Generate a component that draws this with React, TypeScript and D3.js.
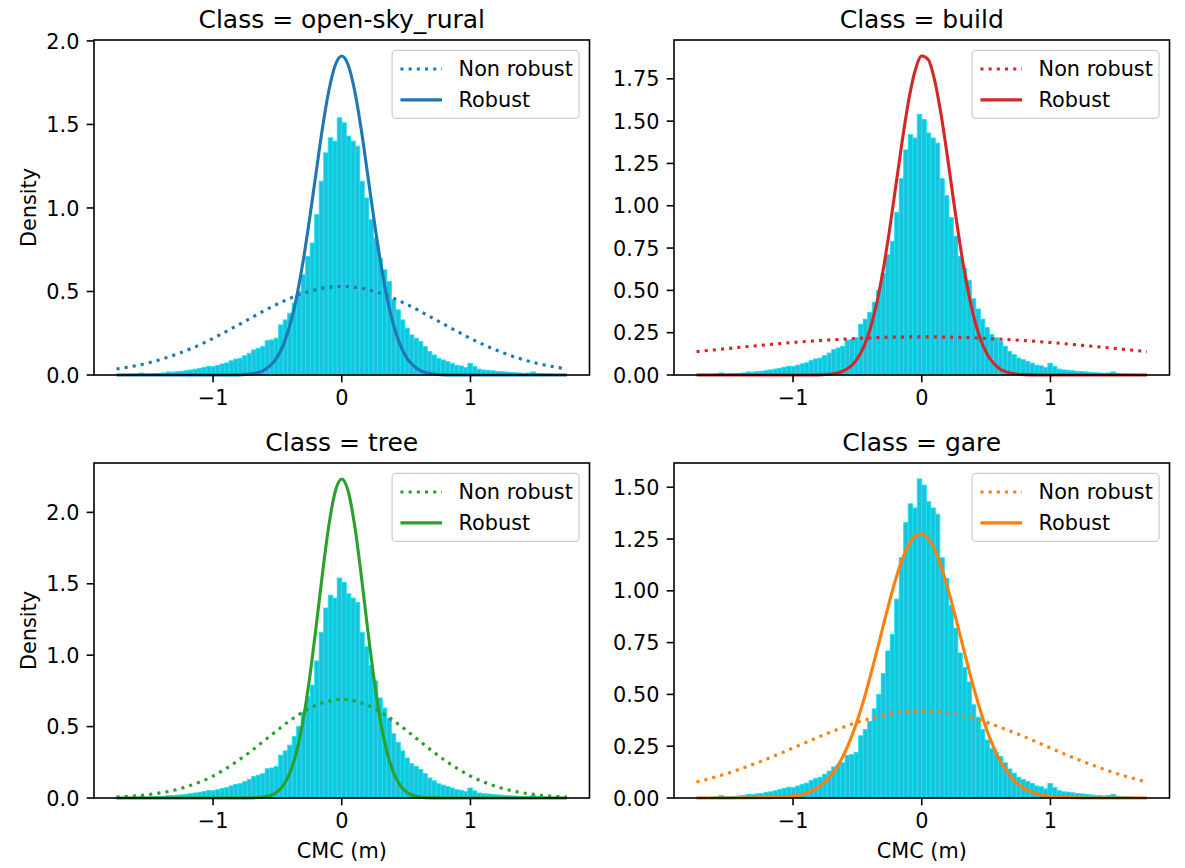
import React from 'react';
import * as d3 from 'd3';

// ---- data ----
const classes = ['open-sky_rural', 'build', 'tree', 'gare'];
const classColors = ['#1f77b4', '#d62728', '#2ca02c', '#ff7f0e'];

// density histogram of CMC (m), 100 bins between -1.75 and 1.75
const binLow = -1.75;
const binHigh = 1.75;
const histDensity = [
  0.003, 0.004, 0.003, 0.005, 0.006, 0.012, 0.006, 0.007, 0.008, 0.010,
  0.012, 0.018, 0.017, 0.020, 0.022, 0.026, 0.030, 0.035, 0.040, 0.046,
  0.052, 0.050, 0.058, 0.066, 0.072, 0.085, 0.095, 0.100, 0.115, 0.130,
  0.150, 0.160, 0.170, 0.205, 0.210, 0.220, 0.300, 0.330, 0.370, 0.430,
  0.500, 0.600, 0.710, 0.790, 0.960, 1.160, 1.330, 1.420, 1.400, 1.540,
  1.510, 1.430, 1.400, 1.370, 1.160, 1.060, 0.930, 0.820, 0.700, 0.630,
  0.560, 0.450, 0.390, 0.330, 0.280, 0.240, 0.220, 0.200, 0.170, 0.140,
  0.120, 0.100, 0.090, 0.080, 0.070, 0.058, 0.054, 0.044, 0.070, 0.050,
  0.035, 0.030, 0.028, 0.025, 0.022, 0.020, 0.018, 0.015, 0.013, 0.012,
  0.010, 0.012, 0.018, 0.009, 0.007, 0.006, 0.005, 0.004, 0.003, 0.003,
];

// x positions where the fitted curves were read
const curveX = [
  -1.75, -1.5, -1.25, -1, -0.9, -0.8, -0.7, -0.6, -0.5, -0.45, -0.4, -0.35, -0.3,
  -0.25, -0.2, -0.15, -0.1, -0.05, 0, 0.05, 0.1, 0.15, 0.2, 0.25, 0.3, 0.35, 0.4,
  0.45, 0.5, 0.6, 0.7, 0.8, 0.9, 1, 1.25, 1.5, 1.75,
];

const nonRobustOpenSky = [
  0.036, 0.073, 0.134, 0.219, 0.260, 0.301, 0.344, 0.386, 0.425, 0.443, 0.460, 0.476, 0.490,
  0.501, 0.511, 0.520, 0.525, 0.529, 0.530, 0.529, 0.525, 0.520, 0.511, 0.501, 0.490, 0.476,
  0.460, 0.443, 0.425, 0.386, 0.344, 0.301, 0.260, 0.219, 0.134, 0.073, 0.036,
];
const robustOpenSky = [
  0, 0, 0, 0, 0, 0.001, 0.007, 0.031, 0.109, 0.188, 0.306, 0.470, 0.682,
  0.934, 1.208, 1.477, 1.703, 1.856, 1.910, 1.856, 1.703, 1.477, 1.208, 0.934, 0.682, 0.470,
  0.306, 0.188, 0.109, 0.031, 0.007, 0.001, 0, 0, 0, 0, 0,
];
const nonRobustBuild = [
  0.138, 0.157, 0.175, 0.192, 0.198, 0.203, 0.208, 0.212, 0.216, 0.218, 0.219, 0.221, 0.222,
  0.223, 0.224, 0.224, 0.225, 0.225, 0.225, 0.225, 0.225, 0.224, 0.224, 0.223, 0.222, 0.221,
  0.219, 0.218, 0.216, 0.212, 0.208, 0.203, 0.198, 0.192, 0.175, 0.157, 0.138,
];
const robustBuild = [
  0, 0, 0, 0, 0, 0.001, 0.006, 0.027, 0.096, 0.167, 0.273, 0.423, 0.620,
  0.859, 1.125, 1.392, 1.629, 1.802, 1.885, 1.864, 1.742, 1.540, 1.287, 1.016, 0.759, 0.536,
  0.357, 0.225, 0.135, 0.040, 0.010, 0.002, 0, 0, 0, 0, 0,
];
const nonRobustTree = [
  0.007, 0.024, 0.067, 0.154, 0.205, 0.265, 0.331, 0.403, 0.475, 0.510, 0.543, 0.574, 0.603,
  0.628, 0.650, 0.667, 0.680, 0.687, 0.690, 0.687, 0.680, 0.667, 0.650, 0.628, 0.603, 0.574,
  0.543, 0.510, 0.475, 0.403, 0.331, 0.265, 0.205, 0.154, 0.067, 0.024, 0.007,
];
const robustTree = [
  0, 0, 0, 0, 0, 0, 0.001, 0.008, 0.044, 0.093, 0.182, 0.328, 0.545,
  0.839, 1.193, 1.570, 1.910, 2.148, 2.234, 2.148, 1.910, 1.570, 1.193, 0.839, 0.545, 0.328,
  0.182, 0.093, 0.044, 0.008, 0.001, 0, 0, 0, 0, 0, 0,
];
const nonRobustGare = [
  0.077, 0.121, 0.177, 0.241, 0.268, 0.295, 0.320, 0.344, 0.366, 0.375, 0.384, 0.392, 0.400,
  0.406, 0.411, 0.415, 0.418, 0.419, 0.420, 0.419, 0.418, 0.415, 0.411, 0.406, 0.400, 0.392,
  0.384, 0.375, 0.366, 0.344, 0.320, 0.295, 0.268, 0.241, 0.177, 0.121, 0.077,
];
const robustGare = [
  0, 0, 0.001, 0.009, 0.022, 0.053, 0.112, 0.216, 0.375, 0.475, 0.587, 0.707, 0.830,
  0.950, 1.061, 1.154, 1.223, 1.265, 1.274, 1.252, 1.199, 1.119, 1.018, 0.903, 0.781, 0.658,
  0.541, 0.433, 0.338, 0.191, 0.097, 0.045, 0.019, 0.007, 0, 0, 0,
];

const xTicks = [-1, 0, 1];
const yTicksOpenSky = [0, 0.5, 1.0, 1.5, 2.0];
const yTicksBuild = [0, 0.25, 0.5, 0.75, 1.0, 1.25, 1.5, 1.75];
const yTicksTree = [0, 0.5, 1.0, 1.5, 2.0];
const yTicksGare = [0, 0.25, 0.5, 0.75, 1.0, 1.25, 1.5];
const legendLabels = ['Non robust', 'Robust'];

// ---- layout ----
const W = 1185;
const H = 868;
const colLeft = [94, 674];
const rowTop = [40, 463];
const axW = 495.5;
const axH = 335;
const fs = 20.8;
const font = 'DejaVu Sans, Liberation Sans, sans-serif';

const panels = [
  { name: classes[0], color: classColors[0], nonRobust: nonRobustOpenSky, robust: robustOpenSky, yTicks: yTicksOpenSky, fmt: '.1f', col: 0, row: 0 },
  { name: classes[1], color: classColors[1], nonRobust: nonRobustBuild, robust: robustBuild, yTicks: yTicksBuild, fmt: '.2f', col: 1, row: 0 },
  { name: classes[2], color: classColors[2], nonRobust: nonRobustTree, robust: robustTree, yTicks: yTicksTree, fmt: '.1f', col: 0, row: 1 },
  { name: classes[3], color: classColors[3], nonRobust: nonRobustGare, robust: robustGare, yTicks: yTicksGare, fmt: '.2f', col: 1, row: 1 },
];

const binEdges = d3.range(histDensity.length + 1).map(
  i => binLow + (i * (binHigh - binLow)) / histDensity.length
);

const minus = (s: string) => s.replace('-', '\u2212');

function Panel({ p }: { p: typeof panels[number] }) {
  const left = colLeft[p.col];
  const top = rowTop[p.row];
  const pad = (binHigh - binLow) * 0.05;
  const x = d3.scaleLinear().domain([binLow - pad, binHigh + pad]).range([left, left + axW]);
  const yMax = 1.05 * (d3.max([...histDensity, ...p.robust, ...p.nonRobust]) as number);
  const y = d3.scaleLinear().domain([0, yMax]).range([top + axH, top]);
  const line = d3
    .line<number>()
    .x((_, i) => x(curveX[i]))
    .y(d => y(d))
    .curve(d3.curveMonotoneX);
  const fmt = d3.format(p.fmt);
  const tickLen = 7.3;
  const tickPad = 7.3;
  const bottom = top + axH;
  const dotted = '3.1,5.1';

  const legW = 187;
  const legH = 68;
  const legX = left + axW - 10.4 - legW;
  const legY = top + 10.4;
  const rowY = [legY + 8.3 + 10.3, legY + 8.3 + 10.3 + 30.9];

  return (
    <g>
      <text x={left + axW / 2} y={top - 12.5} fontSize={25} textAnchor="middle" fontFamily={font}>
        {`Class = ${p.name}`}
      </text>
      {histDensity.map((v, i) => (
        <rect
          key={i}
          x={x(binEdges[i])}
          width={x(binEdges[i + 1]) - x(binEdges[i])}
          y={y(v)}
          height={y(0) - y(v)}
          fill="#1cc2da"
          stroke="#0ee6f7"
          strokeWidth={0.9}
        />
      ))}
      <path d={line(p.nonRobust) || ''} fill="none" stroke={p.color} strokeWidth={3.1} strokeDasharray={dotted} />
      <path d={line(p.robust) || ''} fill="none" stroke={p.color} strokeWidth={3.1} />

      {/* axes frame */}
      <rect x={left} y={top} width={axW} height={axH} fill="none" stroke="#000" strokeWidth={1.6} />

      {xTicks.map(t => (
        <g key={t}>
          <line x1={x(t)} x2={x(t)} y1={bottom} y2={bottom + tickLen} stroke="#000" strokeWidth={1.6} />
          <text x={x(t)} y={bottom + tickLen + tickPad + 15.8} fontSize={fs} textAnchor="middle" fontFamily={font}>
            {minus(d3.format('d')(t))}
          </text>
        </g>
      ))}
      {p.yTicks.map(t => (
        <g key={t}>
          <line x1={left - tickLen} x2={left} y1={y(t)} y2={y(t)} stroke="#000" strokeWidth={1.6} />
          <text x={left - tickLen - tickPad} y={y(t) + 7.6} fontSize={fs} textAnchor="end" fontFamily={font}>
            {fmt(t)}
          </text>
        </g>
      ))}
      {p.col === 0 && (
        <text
          transform={`translate(36,${top + axH / 2}) rotate(-90)`}
          fontSize={fs}
          textAnchor="middle"
          fontFamily={font}
        >
          Density
        </text>
      )}
      {p.row === 1 && (
        <text x={left + axW / 2} y={bottom + 59.5} fontSize={fs} textAnchor="middle" fontFamily={font}>
          CMC (m)
        </text>
      )}

      {/* legend */}
      <rect x={legX} y={legY} width={legW} height={legH} rx={4} fill="#fff" fillOpacity={0.8} stroke="#cccccc" strokeWidth={1.2} />
      {legendLabels.map((lab, i) => (
        <g key={lab}>
          <line
            x1={legX + 8.3}
            x2={legX + 8.3 + 41.6}
            y1={rowY[i]}
            y2={rowY[i]}
            stroke={p.color}
            strokeWidth={3.1}
            strokeDasharray={i === 0 ? dotted : undefined}
          />
          <text x={legX + 8.3 + 41.6 + 16.6} y={rowY[i] + 7.4} fontSize={fs} fontFamily={font}>
            {lab}
          </text>
        </g>
      ))}
    </g>
  );
}

export default function App() {
  return (
    <div style={{ position: 'absolute', left: 0, top: 0 }}>
      <svg width={W} height={H} style={{ display: 'block', background: '#fff' }}>
        {panels.map(p => (
          <Panel key={p.name} p={p} />
        ))}
      </svg>
    </div>
  );
}
